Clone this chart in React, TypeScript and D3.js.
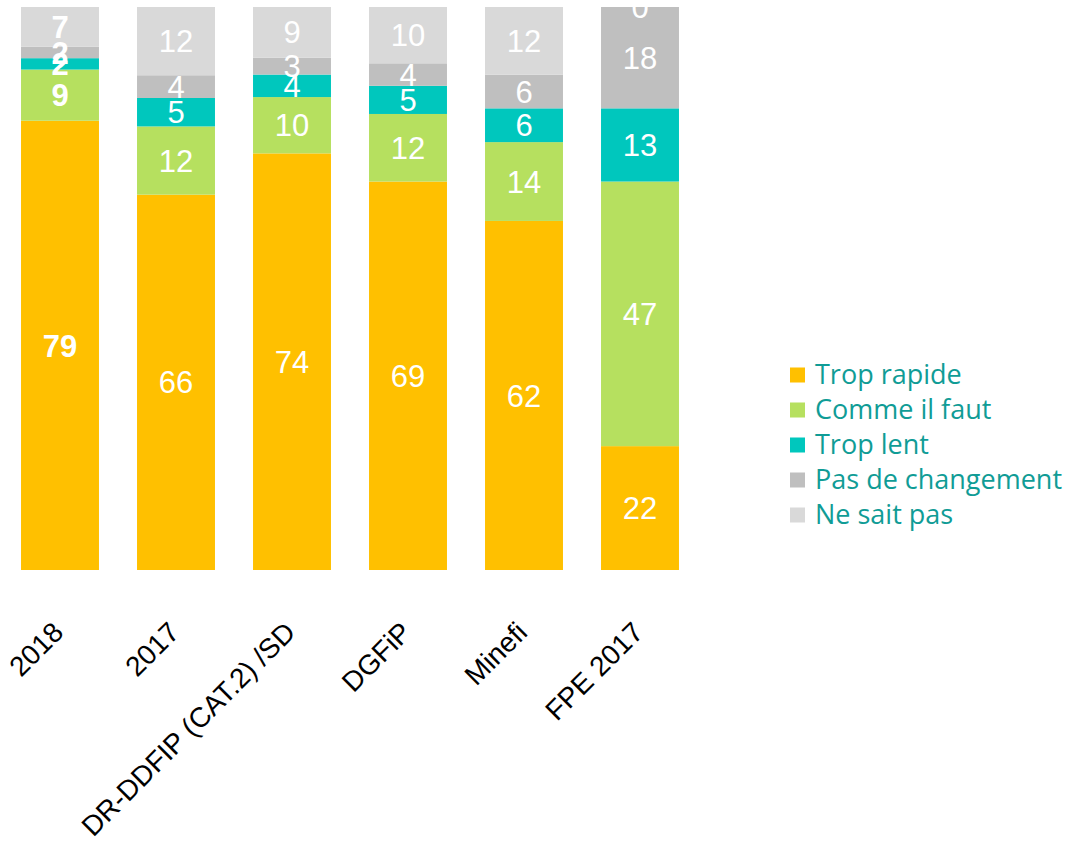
import React from "react";
import * as d3 from "d3";

const categories = ["2018", "2017", "DR-DDFIP (CAT.2) /SD", "DGFiP", "Minefi", "FPE 2017"];
const seriesNames = ["Trop rapide", "Comme il faut", "Trop lent", "Pas de changement", "Ne sait pas"];
const tropRapide = [79, 66, 74, 69, 62, 22];
const commeIlFaut = [9, 12, 10, 12, 14, 47];
const tropLent = [2, 5, 4, 5, 6, 13];
const pasDeChangement = [2, 4, 3, 4, 6, 18];
const neSaitPas = [7, 12, 9, 10, 12, 0];
const colors = ["#FFC000", "#B6E05F", "#00C7BD", "#BFBFBF", "#D9D9D9"];

const W = 1073;
const H = 850;

export default function App() {
  const seriesValues = [tropRapide, commeIlFaut, tropLent, pasDeChangement, neSaitPas];
  const rows = categories.map((c, i) => {
    const r: Record<string, any> = { cat: c };
    seriesNames.forEach((s, j) => (r[s] = seriesValues[j][i]));
    return r;
  });
  const stack = d3.stack<any>().keys(seriesNames).offset(d3.stackOffsetExpand);
  const layers = stack(rows);

  const x = d3.scaleBand<string>().domain(categories).range([2, 698]).paddingInner(0.328).paddingOuter(0.164);
  const y = d3.scaleLinear().domain([0, 1]).range([570, 7]);

  return (
    <svg width={W} height={H} style={{ position: "absolute", left: 0, top: 0 }} fontFamily="'Liberation Sans', Arial, sans-serif">
      <rect width={W} height={H} fill="#fff" />
      {layers.map((layer, li) => (
        <g key={li}>
          {layer.map((d, i) => (
            <rect
              key={i}
              x={x(categories[i])}
              width={x.bandwidth()}
              y={y(d[1])}
              height={Math.max(0, y(d[0]) - y(d[1]))}
              fill={colors[li]}
            />
          ))}
        </g>
      ))}
      {layers.map((layer, li) => (
        <g key={"t" + li}>
          {layer.map((d, i) => (
            <text
              key={i}
              x={(x(categories[i]) as number) + x.bandwidth() / 2}
              y={(y(d[0]) + y(d[1])) / 2}
              dy="0.36em"
              textAnchor="middle"
              fill="#fff"
              fontSize={31}
              fontWeight={i === 0 ? "bold" : "normal"}
            >
              {seriesValues[li][i]}
            </text>
          ))}
        </g>
      ))}
      {categories.map((c) => {
        const cx = (x(c) as number) + x.bandwidth() / 2 + 5;
        const cy = 634;
        return (
          <text key={c} transform={`translate(${cx},${cy}) rotate(-45)`} textAnchor="end" fontSize={28} fill="#000">
            {c}
          </text>
        );
      })}
      {seriesNames.map((s, i) => (
        <g key={s} transform={`translate(790,${375 + i * 35})`}>
          <rect x={0} y={-7.5} width={15} height={15} fill={colors[i]} />
          <text x={25} y={0} dy="0.35em" fontSize={27} fill="#109C96" fontFamily="'Open Sans', sans-serif">
            {s}
          </text>
        </g>
      ))}
    </svg>
  );
}
